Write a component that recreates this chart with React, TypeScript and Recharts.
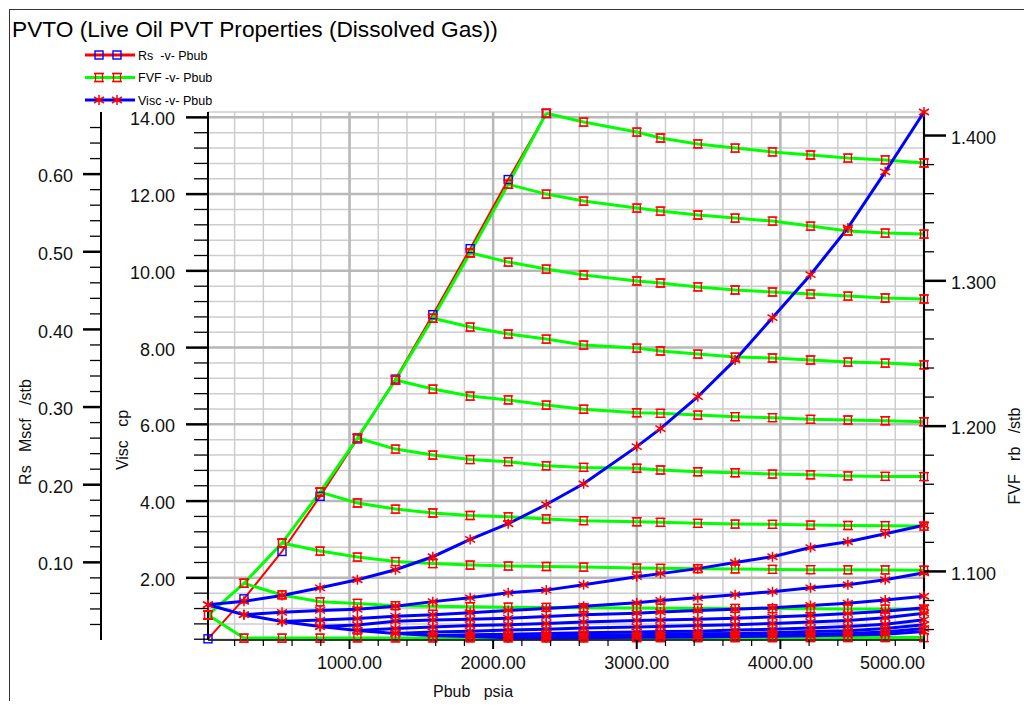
import React from "react";
import { LineChart, Line, XAxis, YAxis, CartesianGrid, Legend } from "recharts";

// Pressure nodes of the PVTO table (psia). The first ten are bubble points.
const PRESSURES = [14.7, 265, 530, 795, 1055, 1320, 1580, 1840, 2105, 2370, 2630, 3000, 3165, 3425, 3685, 3945, 4210, 4470, 4730, 5000];

// Saturated values at each bubble point
const RS_SAT = [0.0015, 0.053, 0.114, 0.185, 0.259, 0.336, 0.419, 0.504, 0.593, 0.678];
const FVF_SAT = [1.07, 1.0918, 1.1195, 1.1546, 1.1918, 1.2317, 1.2742, 1.3193, 1.3664, 1.4153];
const VISC_SAT = [1.3, 1.04, 0.86, 0.73, 0.63, 0.55, 0.5, 0.47, 0.44, 0.43];

// Undersaturated branches: values at the pressures above each bubble point
const FVF_UNDERSAT = [
  [1.0541, 1.0541, 1.0541, 1.0542, 1.0542, 1.0542, 1.0543, 1.0543, 1.0543, 1.0543, 1.0544, 1.0544, 1.0544, 1.0544, 1.0544, 1.0545, 1.0545, 1.0545, 1.0545],
  [1.0838, 1.0791, 1.078, 1.0764, 1.076, 1.0757, 1.0754, 1.0752, 1.075, 1.0748, 1.0747, 1.0746, 1.0745, 1.0744, 1.0743, 1.0742, 1.0741, 1.074],
  [1.114, 1.1099, 1.1068, 1.1054, 1.1044, 1.1037, 1.1034, 1.103, 1.1023, 1.1021, 1.1019, 1.1017, 1.1014, 1.1012, 1.1011, 1.101, 1.1008],
  [1.1471, 1.1429, 1.1402, 1.1385, 1.1376, 1.1361, 1.1349, 1.1342, 1.1338, 1.1331, 1.1326, 1.1324, 1.1319, 1.1316, 1.1315, 1.1312],
  [1.1842, 1.1801, 1.177, 1.1755, 1.1727, 1.1716, 1.171, 1.1698, 1.1686, 1.1679, 1.167, 1.1665, 1.1657, 1.1654, 1.1653],
  [1.2255, 1.2207, 1.218, 1.2145, 1.2116, 1.2092, 1.2088, 1.2076, 1.2065, 1.2058, 1.2047, 1.2042, 1.2037, 1.203],
  [1.2682, 1.2634, 1.2599, 1.2558, 1.2537, 1.2517, 1.2496, 1.2475, 1.2469, 1.2455, 1.2441, 1.2434, 1.2421],
  [1.3129, 1.3081, 1.304, 1.2999, 1.2985, 1.2958, 1.2937, 1.2923, 1.2909, 1.2895, 1.2882, 1.2875],
  [1.3597, 1.3549, 1.3501, 1.348, 1.3453, 1.3432, 1.3411, 1.3377, 1.3343, 1.3329, 1.3322],
  [1.4093, 1.4024, 1.3983, 1.3942, 1.3914, 1.3887, 1.3866, 1.3845, 1.3832, 1.3811],
];

const VISC_UNDERSAT = [
  [1.39, 1.54, 1.74, 1.95, 2.21, 2.55, 3.0, 3.41, 3.91, 4.45, 5.42, 5.89, 6.72, 7.68, 8.78, 9.9, 11.12, 12.58, 14.14],
  [1.1, 1.15, 1.18, 1.26, 1.38, 1.48, 1.61, 1.68, 1.82, 2.03, 2.11, 2.24, 2.4, 2.55, 2.79, 2.94, 3.15, 3.37],
  [0.9, 0.94, 1.0, 1.04, 1.09, 1.15, 1.2, 1.26, 1.35, 1.41, 1.48, 1.56, 1.64, 1.74, 1.82, 1.95, 2.13],
  [0.77, 0.87, 0.9, 0.92, 0.95, 0.99, 1.04, 1.08, 1.11, 1.15, 1.18, 1.22, 1.28, 1.34, 1.42, 1.52],
  [0.68, 0.72, 0.76, 0.78, 0.81, 0.85, 0.89, 0.9, 0.92, 0.95, 0.98, 1.02, 1.07, 1.13, 1.22],
  [0.59, 0.61, 0.64, 0.66, 0.69, 0.72, 0.73, 0.76, 0.78, 0.81, 0.85, 0.89, 0.96, 1.08],
  [0.52, 0.53, 0.55, 0.57, 0.59, 0.6, 0.61, 0.64, 0.66, 0.69, 0.73, 0.79, 0.91],
  [0.48, 0.49, 0.51, 0.52, 0.53, 0.54, 0.55, 0.57, 0.6, 0.62, 0.68, 0.78],
  [0.45, 0.46, 0.47, 0.48, 0.49, 0.5, 0.51, 0.53, 0.55, 0.59, 0.68],
  [0.44, 0.45, 0.45, 0.46, 0.47, 0.48, 0.49, 0.51, 0.53, 0.6],
];

// tick values
const steps = (from: number, to: number, step: number) => {
  const out: number[] = [];
  for (let k = 0; from + k * step <= to + 1e-9; k++) out.push(Number((from + k * step).toFixed(4)));
  return out;
};
const X_TICKS = steps(200, 5000, 200);
const X_MAJOR = [1000, 2000, 3000, 4000, 5000];
const VISC_TICKS = steps(0.4, 14, 0.4);
const VISC_MAJOR = [2, 4, 6, 8, 10, 12, 14];
const RS_TICKS = steps(0.02, 0.66, 0.02);
const FVF_TICKS = steps(1.06, 1.4, 0.02);

const FONT = '"Liberation Sans", Arial, sans-serif';

const satSeries = (vals: number[]) => vals.map((v, i) => ({ p: PRESSURES[i], v }));
const branchSeries = (i: number, sat: number[], under: number[][]) => [
  { p: PRESSURES[i], v: sat[i] },
  ...under[i].map((v, j) => ({ p: PRESSURES[i + 1 + j], v })),
];

function RsMark({ cx, cy }: any) {
  if (cx == null || cy == null) return null;
  return <rect x={cx - 4} y={cy - 4} width={8} height={8} fill="none" stroke="#0000ff" strokeWidth={1.4} />;
}

function FvfMark({ cx, cy }: any) {
  if (cx == null || cy == null) return null;
  return (
    <g stroke="#ff0000" strokeWidth={1.3} fill="none">
      <rect x={cx - 3.5} y={cy - 4} width={7} height={8} />
      <path d={`M${cx - 5} ${cy - 4}H${cx + 5}M${cx - 5} ${cy + 4}H${cx + 5}`} />
    </g>
  );
}

function ViscMark({ cx, cy }: any) {
  if (cx == null || cy == null) return null;
  return (
    <path
      d={`M${cx} ${cy - 5}V${cy + 5}M${cx - 5} ${cy - 3}L${cx + 5} ${cy + 3}M${cx + 5} ${cy - 3}L${cx - 5} ${cy + 3}`}
      stroke="#ff0000"
      strokeWidth={1.5}
    />
  );
}

function XTick(props: any) {
  const { x, y, payload } = props;
  const v = payload.value;
  const major = v % 1000 === 0;
  const last = v === 5000;
  return (
    <g>
      <line x1={x} y1={y} x2={x} y2={y + (major ? 9 : 6)} stroke="#000" strokeWidth={major ? 2 : 1.2} />
      {major && (
        <text x={last ? x + 1 : x} y={y + 29} textAnchor={last ? "end" : "middle"} fontSize={18} fontFamily={FONT} fill="#111">
          {v.toFixed(2)}
        </text>
      )}
    </g>
  );
}

function YTick(props: any) {
  const { x, y, payload, side, majorStep, decimals, majorLen, minorLen, gap } = props;
  const v = payload.value;
  const major = Math.abs(v / majorStep - Math.round(v / majorStep)) < 1e-6;
  const dir = side === "right" ? 1 : -1;
  return (
    <g>
      <line x1={x} y1={y} x2={x + dir * (major ? majorLen : minorLen)} y2={y} stroke="#000" strokeWidth={major ? 2.5 : 1.3} />
      {major && (
        <text x={x + dir * gap} y={y} dy="0.45em" textAnchor={side === "right" ? "start" : "end"} fontSize={18} fontFamily={FONT} fill="#111">
          {v.toFixed(decimals)}
        </text>
      )}
    </g>
  );
}

const LEGEND_ROWS = [
  { label: "Rs  -v- Pbub", color: "#ff0000", Mark: RsMark },
  { label: "FVF -v- Pbub", color: "#00ff00", Mark: FvfMark },
  { label: "Visc -v- Pbub", color: "#0000ff", Mark: ViscMark },
];

const LegendBox = () => (
  <svg width={150} height={64} style={{ overflow: "visible", display: "block" }}>
    {LEGEND_ROWS.map((r, k) => {
      const y = 10 + k * 22.5;
      return (
        <g key={r.label}>
          <line x1={0} x2={50} y1={y} y2={y} stroke={r.color} strokeWidth={3} />
          <r.Mark cx={14} cy={y} />
          <r.Mark cx={32} cy={y} />
          <text x={53} y={y} dy="0.36em" fontSize={12.5} fontFamily={FONT} fill="#000" style={{ whiteSpace: "pre" }}>
            {r.label}
          </text>
        </g>
      );
    })}
  </svg>
);

export default function App() {
  const pre: React.CSSProperties = { whiteSpace: "pre" };
  return (
    <div style={{ position: "relative", width: 1016, height: 693, fontFamily: FONT, background: "#fff" }}>
      <div style={{ position: "absolute", left: 1, top: 1, width: 1015, height: 692, borderLeft: "1.5px solid #333", borderTop: "1.5px solid #333" }} />
      <LineChart width={1016} height={693} margin={{ top: 104, right: 0, bottom: 0, left: 0 }}>
        <CartesianGrid yAxisId="cp" stroke="#cdcdcd" strokeWidth={1.5} />
        <CartesianGrid yAxisId="cp" horizontalValues={VISC_MAJOR} verticalValues={X_MAJOR} stroke="#b8b8b8" strokeWidth={2.5} />
        <XAxis
          type="number"
          dataKey="p"
          domain={[14.7, 5000]}
          ticks={X_TICKS}
          interval={0}
          tickSize={0}
          tickMargin={0}
          tick={<XTick />}
          axisLine={{ stroke: "#000", strokeWidth: 1.5 }}
          height={61}
        />
        {/* inner left axis: viscosity */}
        <YAxis
          yAxisId="cp"
          type="number"
          domain={[0.38, 14.14]}
          ticks={VISC_TICKS}
          interval={0}
          tickSize={0}
          tickMargin={0}
          width={107}
          tick={<YTick side="left" majorStep={2} decimals={2} majorLen={22} minorLen={14} gap={33} />}
          axisLine={{ stroke: "#000", strokeWidth: 2 }}
        />
        {/* outer left axis: Rs */}
        <YAxis
          yAxisId="rs"
          type="number"
          domain={[0, 0.68]}
          ticks={RS_TICKS}
          interval={0}
          tickSize={0}
          tickMargin={0}
          width={93}
          tick={<YTick side="left" majorStep={0.1} decimals={2} majorLen={18} minorLen={11} gap={28} />}
          axisLine={{ stroke: "#000", strokeWidth: 2 }}
        />
        <YAxis
          yAxisId="fvf"
          orientation="right"
          type="number"
          domain={[1.0528, 1.4162]}
          ticks={FVF_TICKS}
          interval={0}
          tickSize={0}
          tickMargin={0}
          width={100}
          tick={<YTick side="right" majorStep={0.1} decimals={3} majorLen={22} minorLen={10} gap={27} />}
          axisLine={{ stroke: "#000", strokeWidth: 2 }}
        />
        <Legend layout="vertical" align="center" verticalAlign="middle" content={<LegendBox />} wrapperStyle={{ left: 77, top: 37, width: 150 }} />

        <Line yAxisId="rs" data={satSeries(RS_SAT)} dataKey="v" stroke="#ff0000" strokeWidth={2} dot={<RsMark />} activeDot={false} isAnimationActive={false} legendType="none" />

        <Line yAxisId="fvf" data={satSeries(FVF_SAT)} dataKey="v" stroke="#00ff00" strokeWidth={3} dot={<FvfMark />} activeDot={false} isAnimationActive={false} legendType="none" />
        {FVF_UNDERSAT.map((_, i) => (
          <Line key={`fvf${i}`} yAxisId="fvf" data={branchSeries(i, FVF_SAT, FVF_UNDERSAT)} dataKey="v" stroke="#00ff00" strokeWidth={3} dot={<FvfMark />} activeDot={false} isAnimationActive={false} legendType="none" />
        ))}

        <Line yAxisId="cp" data={satSeries(VISC_SAT)} dataKey="v" stroke="#0000ff" strokeWidth={3} dot={<ViscMark />} activeDot={false} isAnimationActive={false} legendType="none" />
        {VISC_UNDERSAT.map((_, i) => (
          <Line key={`visc${i}`} yAxisId="cp" data={branchSeries(i, VISC_SAT, VISC_UNDERSAT)} dataKey="v" stroke="#0000ff" strokeWidth={3} dot={<ViscMark />} activeDot={false} isAnimationActive={false} legendType="none" />
        ))}
      </LineChart>
      <svg width={1022} height={693} style={{ position: "absolute", left: 0, top: 0, pointerEvents: "none" }}>
        <text x={4} y={29} fontSize={22.7} fontFamily={FONT} fill="#000" style={pre}>
          PVTO (Live Oil PVT Properties (Dissolved Gas))
        </text>
        <text transform="translate(23,424) rotate(-90)" textAnchor="middle" fontSize={16} fontFamily={FONT} fill="#111" style={pre}>
          Rs   Mscf   /stb
        </text>
        <text transform="translate(120,432) rotate(-90)" textAnchor="middle" fontSize={16} fontFamily={FONT} fill="#111" style={pre}>
          Visc   cp
        </text>
        <text transform="translate(1012,448) rotate(-90)" textAnchor="middle" fontSize={16} fontFamily={FONT} fill="#111" style={pre}>
          FVF   rb   /stb
        </text>
        <text x={465} y={689} textAnchor="middle" fontSize={16} fontFamily={FONT} fill="#111" style={pre}>
          Pbub   psia
        </text>
      </svg>
    </div>
  );
}
